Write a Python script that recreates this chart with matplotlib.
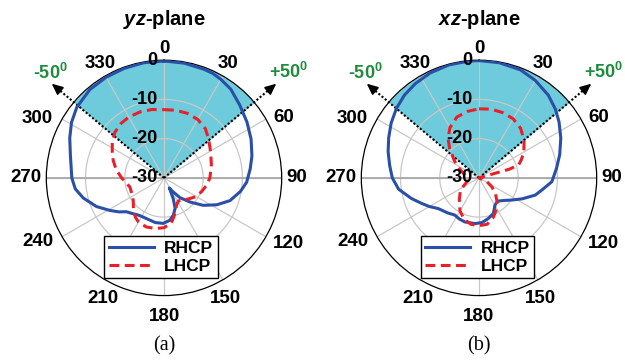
import numpy as np
import matplotlib
matplotlib.use("Agg")
import matplotlib.pyplot as plt
from matplotlib.lines import Line2D

plt.rcParams["font.family"] = ["Liberation Sans", "DejaVu Sans"]
plt.rcParams["mathtext.fontset"] = "custom"
plt.rcParams["mathtext.it"] = "Liberation Sans:italic:bold"
plt.rcParams["mathtext.bf"] = "Liberation Sans:bold"
plt.rcParams["mathtext.rm"] = "Liberation Sans:bold"

# ---- radiation patterns (angle in degrees, gain in dB) ----
yz_rhcp_deg = [0, 10, 20, 25, 30, 37, 46, 56, 66, 76, 84, 93, 100, 109, 117, 125, 133,
               141, 148, 152, 156, 160, 166, 172, 181, 191, 203, 212, 217, 222, 228,
               233, 239, 247, 256, 263, 270, 284, 293, 301, 309, 320, 330, 340, 350, 360]
yz_rhcp_db = [-0.2, -0.3, -0.5, -0.6, -1.0, -1.7, -3.2, -4.5, -5.7, -6.9, -7.9, -8.9,
              -10.2, -12.2, -14.9, -17.8, -21.0, -23.5, -26.0, -27.1, -24.2, -21.7, -20.2,
              -19.1, -18.4, -18.4, -18.7, -18.6, -18.3, -17.8, -17.1, -15.6, -13.9, -11.3,
              -8.8, -7.2, -6.5, -5.4, -3.9, -2.5, -1.4, -0.6, -0.4, -0.3, -0.2, -0.2]

yz_lhcp_deg = [0, 10, 20, 30, 40, 48, 57, 66, 75, 90, 100, 110, 120, 130, 140, 148, 155,
               161, 166, 171, 180, 190, 200, 210, 216, 224, 234, 245, 255, 263, 270, 280,
               289, 297, 305, 313, 322, 330, 340, 350, 360]
yz_lhcp_db = [-12.6, -12.5, -12.5, -12.8, -13.6, -14.8, -16.0, -16.9, -17.5, -18.3, -19.0,
              -19.8, -20.5, -21.7, -22.6, -23.1, -22.4, -21.0, -19.7, -18.3, -17.3, -16.9,
              -16.7, -17.0, -17.6, -18.8, -20.3, -20.9, -21.0, -20.2, -19.2, -17.6, -16.3,
              -15.2, -13.9, -12.9, -12.3, -12.1, -12.1, -12.3, -12.6]

xz_rhcp_deg = [0, 10, 21, 30, 40, 48, 55, 64, 74, 83, 93, 101, 107, 116, 124, 132, 140,
               146, 150, 158, 167, 176, 185, 198, 206, 213, 222, 233, 240, 246, 253, 262,
               270, 278, 286, 294, 302, 310, 318, 326, 335, 345, 355, 360]
xz_rhcp_db = [-0.1, -0.2, -0.5, -1.3, -2.5, -3.8, -5.1, -6.8, -8.6, -10.1, -11.4, -13.7,
              -15.0, -17.8, -19.9, -21.4, -22.3, -22.2, -21.9, -20.2, -19.4, -18.6, -18.3,
              -18.2, -18.4, -18.7, -18.0, -17.0, -15.4, -14.0, -12.0, -9.3, -7.9, -7.0,
              -5.9, -4.8, -3.6, -2.5, -1.6, -1.0, -0.5, -0.2, -0.1, -0.1]

xz_lhcp_deg = [0, 10, 20, 30, 40, 50, 60, 67, 72, 74, 76, 90, 105, 115, 125, 133, 142,
               150, 160, 170, 180, 190, 200, 210, 222, 233, 242, 258, 270, 285, 295, 305,
               315, 322, 330, 340, 350, 360]
xz_lhcp_db = [-12.4, -12.2, -12.3, -12.6, -13.5, -15.0, -16.8, -18.3, -19.4, -22.0, -30.0,
              -30.0, -30.0, -27.8, -26.0, -24.3, -22.6, -21.0, -19.3, -18.0, -17.8, -18.0,
              -18.8, -20.3, -22.5, -24.0, -25.5, -27.2, -27.2, -26.0, -24.5, -22.3, -19.4,
              -17.2, -15.2, -13.5, -12.8, -12.4]

theta_ticks = [0, 30, 60, 90, 120, 150, 180, 210, 240, 270, 300, 330]
r_ticks = [0, -10, -20, -30]
sector_half = 50
series_names = ["RHCP", "LHCP"]
plane_titles = [r"$\mathit{yz}$-plane", r"$\mathit{xz}$-plane"]
panel_tags = ["(a)", "(b)"]

R_MIN, R_MAX = -30.0, 0.0
BLUE = "#2a4fa6"
RED = "#e8202a"
CYAN = "#6ecbdb"
GREEN = "#1e8c3c"
GRID = "#c8c8c8"
DASH = (0, (3.2, 1.8))


def rf(frac):
    """Radius (dB) at a fraction of the plot radius."""
    return R_MIN + (R_MAX - R_MIN) * frac


# label placement: angle -> (radius fraction, ha, va, angle used)
label_layout = {
    0: (1.03, "center", "bottom", 0),
    30: (1.115, "center", "center", 29),
    60: (1.065, "left", "center", 61),
    90: (1.04, "left", "center", 90),
    120: (1.075, "left", "center", 121),
    150: (1.15, "center", "center", 153),
    180: (1.105, "center", "top", 180),
    210: (1.15, "center", "center", 207),
    240: (1.085, "right", "center", 240),
    270: (1.04, "right", "center", 270),
    300: (1.075, "right", "center", 298),
    330: (1.115, "center", "center", 331),
}

fig = plt.figure(figsize=(6.25, 3.63), dpi=100)

panels = [
    (0.0741, yz_rhcp_deg, yz_rhcp_db, yz_lhcp_deg, yz_lhcp_db, 0.487),
    (0.5781, xz_rhcp_deg, xz_rhcp_db, xz_lhcp_deg, xz_lhcp_db, 0.493),
]

for i, (left, rd, rv, ld, lv, leg_x) in enumerate(panels):
    ax = fig.add_axes([left, 0.1857, 0.3766, 0.6485], projection="polar")
    ax.set_theta_zero_location("N")
    ax.set_theta_direction(-1)
    ax.set_ylim(R_MIN, R_MAX)
    ax.set_xticks(np.deg2rad(theta_ticks))
    ax.set_xticklabels([])
    ax.set_yticks([-20, -10])
    ax.set_yticklabels([])
    ax.grid(True, color=GRID, lw=0.9)
    ax.spines["polar"].set_color("black")
    ax.spines["polar"].set_linewidth(0.9)
    ax.tick_params(length=0)

    # shaded coverage sector
    th_sec = np.deg2rad(np.linspace(-sector_half, sector_half, 121))
    ax.fill_between(th_sec, R_MIN, R_MAX, color=CYAN, lw=0, zorder=0.8)

    # horizontal axis line
    for a in (90, 270):
        ax.plot(np.deg2rad([a, a]), [R_MIN, R_MAX], color="#a8a8a8", lw=1.3, zorder=1.6)

    # sector boundary arrows
    for a in (-sector_half, sector_half):
        th = np.deg2rad(a)
        ax.plot([th, th], [R_MIN, rf(1.19)], color="black", lw=1.5,
                linestyle=(0, (1.0, 1.0)), clip_on=False, zorder=2.5)
        ax.annotate("", xy=(th, rf(1.245)), xytext=(th, rf(1.18)),
                    arrowprops=dict(arrowstyle="-|>,head_length=0.55,head_width=0.25",
                                    color="black", lw=1.2, shrinkA=0, shrinkB=0,
                                    mutation_scale=12),
                    annotation_clip=False, zorder=2.5)

    ax.text(np.deg2rad(-47.4), rf(1.315), "-50$^{\\mathbf{0}}$", color=GREEN,
            fontsize=13, fontweight="bold", ha="center", va="center", clip_on=False)
    ax.text(np.deg2rad(49.8), rf(1.39), "+50$^{\\mathbf{0}}$", color=GREEN,
            fontsize=13, fontweight="bold", ha="center", va="center", clip_on=False)

    # patterns
    ax.plot(np.deg2rad(rd), rv, color=BLUE, lw=2.2, zorder=3)
    ax.plot(np.deg2rad(ld), lv, color=RED, lw=2.2, linestyle=DASH, zorder=3.1)

    # angle labels
    for a in theta_ticks:
        frac, ha, va, pos = label_layout[a]
        ax.text(np.deg2rad(pos), rf(frac), str(a), fontsize=13.5, fontweight="bold",
                ha=ha, va=va, clip_on=False)

    # radial labels along the 0 deg spoke
    for r in r_ticks:
        ax.annotate(str(r), xy=(0, r), xytext=(-5, 0), textcoords="offset points",
                    fontsize=13, fontweight="bold", ha="right", va="center",
                    zorder=4)

    handles = [Line2D([], [], color=BLUE, lw=2.2),
               Line2D([], [], color=RED, lw=2.2, linestyle=DASH)]
    leg = ax.legend(handles, series_names, loc="upper center",
                    bbox_to_anchor=(leg_x, 0.252), frameon=True, fancybox=False,
                    edgecolor="black", framealpha=1,
                    prop=dict(weight="bold", size=12.5), handlelength=2.6,
                    handletextpad=0.6, labelspacing=0.18, borderpad=0.25,
                    borderaxespad=0)
    leg.get_frame().set_linewidth(1.0)

    cx = left + 0.3766 / 2
    fig.text(cx, 0.931, plane_titles[i], fontsize=14.5, fontweight="bold",
             ha="center", va="baseline")
    fig.text(cx, 1 - 346 / 363, panel_tags[i], fontsize=14.5,
             family="Liberation Serif", ha="center", va="center")

fig.savefig("out.png", dpi=100)
